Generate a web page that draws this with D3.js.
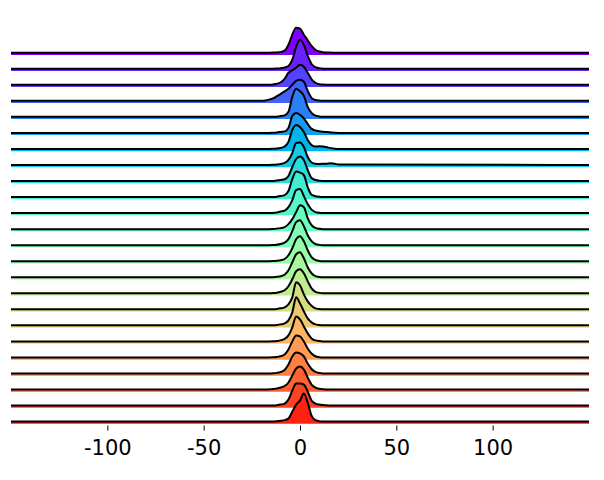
<!DOCTYPE html>
<html>
<head>
<meta charset="utf-8">
<script src="https://cdn.jsdelivr.net/npm/d3@7"></script>
<style>
    body { margin: 0; background: #ffffff; }
    .tick text { font-family: "DejaVu Sans", sans-serif; font-size: 21px; }
</style>
</head>
<body>
<svg id="svgJoy" width="604" height="480"></svg>
<script>

var xGrid = [-20, -18, -16, -14, -12, -10, -8, -6, -4, -2, 0, 2, 4, 6, 8, 10, 12, 14, 16, 18, 20];

// One density row per ridge, top to bottom
var rowDensities = [
    [0, 0, 0, 0.1, 0.3, 0.7, 2, 8, 18, 25, 24, 18, 12.5, 6.7, 3, 1.2, 0.5, 0.2, 0.1, 0, 0],
    [0, 0, 0, 0, 0.2, 0.5, 1.3, 2.7, 9, 22, 29, 24, 13, 4.8, 1.5, 0.4, 0.1, 0, 0, 0, 0],
    [0, 0, 0, 0.3, 1, 2.5, 6, 12, 14.5, 17, 20, 18, 12, 5.5, 2, 0.6, 0.2, 0, 0, 0, 0],
    [0, 0.3, 1.2, 2.5, 4.7, 7, 9.5, 12, 16, 20, 21, 19, 10, 3, 0.8, 0.2, 0, 0, 0, 0, 0],
    [0, 0, 0, 0, 0.2, 0.8, 1.5, 5, 20, 28, 25.7, 21, 10, 4, 1.2, 0.4, 0.1, 0, 0, 0, 0],
    [0, 0, 0, 0.2, 0.5, 1, 1.5, 5, 17, 20, 18, 14.5, 9, 4, 2.5, 1.7, 1.2, 0.8, 0.5, 0.2, 0],
    [0, 0, 0, 0.2, 0.5, 1, 2.5, 7, 19, 24, 22, 17, 9, 4, 2.5, 2.6, 2.4, 1.6, 0.8, 0.3, 0],
    [0, 0, 0, 0.2, 0.5, 1, 2, 5, 12, 22, 22.5, 18, 8, 2.5, 1.2, 1, 1.1, 1.3, 1.6, 1.2, 0.4],
    [0, 0, 0, 0.1, 0.4, 1, 1.8, 5, 14, 22, 24.5, 21, 11, 3, 1, 0.3, 0.1, 0, 0, 0, 0],
    [0, 0, 0, 0.1, 0.4, 1, 2, 6, 18, 25.5, 24.5, 22, 10, 2.3, 0.8, 0.2, 0, 0, 0, 0, 0],
    [0, 0, 0, 0.2, 0.6, 1.5, 2.5, 6, 13, 23, 24, 17, 9, 3.5, 1, 0.3, 0, 0, 0, 0, 0],
    [0, 0, 0, 0.2, 0.5, 1, 2, 5, 10, 17, 24, 22, 11, 4, 1.2, 0.3, 0, 0, 0, 0, 0],
    [0, 0, 0, 0.2, 0.5, 1.2, 2.5, 6, 14, 23, 25, 19, 10, 4, 1.2, 0.3, 0, 0, 0, 0, 0],
    [0, 0, 0, 0.1, 0.4, 1, 2.2, 6, 13, 22, 25, 20, 11, 4, 1.2, 0.3, 0, 0, 0, 0, 0],
    [0, 0, 0, 0.1, 0.4, 1, 2.5, 7, 15, 23, 25, 19, 10, 4, 1.2, 0.3, 0, 0, 0, 0, 0],
    [0, 0, 0, 0.2, 0.6, 1.5, 3, 7, 14, 22, 24, 20, 12, 5, 1.5, 0.4, 0, 0, 0, 0, 0],
    [0, 0, 0, 0.1, 0.4, 1, 2, 5, 12, 27, 24, 15, 8, 3.5, 1, 0.3, 0, 0, 0, 0, 0],
    [0, 0, 0, 0.1, 0.4, 1, 2, 5, 13, 28, 22, 14, 7, 3, 1, 0.3, 0, 0, 0, 0, 0],
    [0, 0, 0, 0.1, 0.4, 1, 2.5, 6, 14, 25, 22, 15, 8, 3, 1, 0.3, 0, 0, 0, 0, 0],
    [0, 0, 0, 0.2, 0.5, 1.2, 3, 8, 16, 22, 21, 16, 9, 4, 1.2, 0.3, 0, 0, 0, 0, 0],
    [0, 0, 0, 0.2, 0.6, 1.5, 3.5, 9, 17, 21, 20, 17, 10, 4.5, 1.5, 0.4, 0, 0, 0, 0, 0],
    [0, 0, 0.2, 0.5, 1, 2, 3.5, 7, 14, 21, 23, 20, 12, 5, 2, 0.8, 0.3, 0.1, 0, 0, 0],
    [0, 0, 0, 0.1, 0.4, 1, 2, 6, 15, 22, 22, 21, 14, 5, 2, 1, 0.5, 0.2, 0, 0, 0],
    [0, 0, 0, 0.1, 0.3, 0.8, 1.5, 3, 10, 17, 21, 28, 19, 6, 1.5, 0.3, 0, 0, 0, 0, 0]
];

var xTicks = [-100, -50, 0, 50, 100];

function rainbow(t) {
    /*
     * matplotlib "rainbow" colour map
     */
    var r = Math.min(1, Math.abs(2 * t - 0.5));
    var g = Math.sin(t * Math.PI);
    var b = Math.cos(t * Math.PI / 2);
    return d3.rgb(r * 255, g * 255, b * 255).toString();
}

var svg = d3.select("#svgJoy");

// Horizontal scale shared by every ridge
var xScale = d3.scaleLinear()
    .domain([-150, 150])
    .range([11, 589]);

// Baseline of each ridge
var rowScale = d3.scalePoint()
    .domain(d3.range(rowDensities.length))
    .range([52.7, 421.6]);

// Density to pixel height
var hScale = d3.scaleLinear()
    .domain([0, 30])
    .range([0, 30]);

var nRows = rowDensities.length;

rowDensities.forEach(function(dens, i) {

    var base = rowScale(i);
    var pts = [[-150, 0]].concat(xGrid.map(function(x, j) {
        return [x, dens[j]];
    }), [[150, 0]]);

    var area = d3.area()
        .curve(d3.curveMonotoneX)
        .x(function(d) { return xScale(d[0]); })
        .y0(base + 2.2)
        .y1(function(d) { return base - hScale(d[1]); });

    var line = d3.line()
        .curve(d3.curveMonotoneX)
        .x(function(d) { return xScale(d[0]); })
        .y(function(d) { return base - hScale(d[1]); });

    var ridge = svg.append("g").attr("class", "ridge");

    ridge.append("path")
        .attr("d", area(pts))
        .attr("fill", rainbow(i / nRows));

    ridge.append("path")
        .attr("d", line(pts))
        .attr("fill", "none")
        .attr("stroke", "#000")
        .attr("stroke-width", 2)
        .attr("stroke-linejoin", "round");
});

// Draw x-axis below the last ridge
var xAxis = svg.append("g")
    .attr("transform", `translate(0, ${rowScale(nRows - 1) + 4})`)
    .call(d3.axisBottom(xScale)
        .tickValues(xTicks)
        .tickSize(5)
        .tickPadding(9)
        .tickFormat(function(d) { return String(d); }));

xAxis.select(".domain").remove();
xAxis.selectAll(".tick line").attr("stroke", "#000").attr("stroke-width", 1);
xAxis.selectAll(".tick text").attr("fill", "#000");

</script>
</body>
</html>
